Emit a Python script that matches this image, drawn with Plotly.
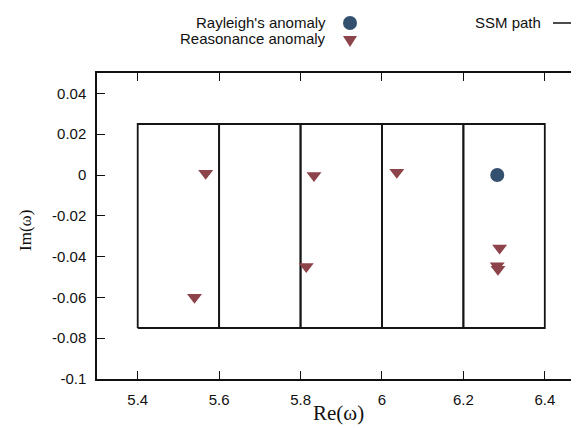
import plotly.graph_objects as go

# SSM path: rectangles spanning these real-part edges, between im_bottom and im_top
re_edges = [5.4, 5.6, 5.8, 6.0, 6.2, 6.4]
im_top = 0.025
im_bottom = -0.075

# Rayleigh's anomaly
rayleigh_re = [6.2832]
rayleigh_im = [0.0]

# Reasonance anomaly
res_re = [5.567, 5.5395, 5.833, 5.814, 6.0365, 6.289, 6.283, 6.285]
res_im = [0.0009, -0.0599, -0.0003, -0.0449, 0.0013, -0.0358, -0.0445, -0.0462]

xtick_vals = [5.4, 5.6, 5.8, 6.0, 6.2, 6.4]
xtick_text = ["5.4", "5.6", "5.8", "6", "6.2", "6.4"]
ytick_vals = [0.04, 0.02, 0, -0.02, -0.04, -0.06, -0.08, -0.1]
ytick_text = ["0.04", "0.02", "0", "-0.02", "-0.04", "-0.06", "-0.08", "-0.1"]

circle_color = "#34506f"
tri_color = "#8c4349"

path_x, path_y = [], []
for a, b in zip(re_edges[:-1], re_edges[1:]):
    path_x += [a, b, b, a, a, None]
    path_y += [im_bottom, im_bottom, im_top, im_top, im_bottom, None]

fig = go.Figure()
fig.add_trace(go.Scatter(x=path_x, y=path_y, mode="lines",
                         line=dict(color="#151515", width=1.8),
                         name="SSM path", showlegend=False, hoverinfo="skip"))
fig.add_trace(go.Scatter(x=res_re, y=res_im, mode="markers",
                         marker=dict(symbol="triangle-down", size=13, color=tri_color),
                         name="Reasonance anomaly", showlegend=False))
fig.add_trace(go.Scatter(x=rayleigh_re, y=rayleigh_im, mode="markers",
                         marker=dict(symbol="circle", size=14, color=circle_color),
                         name="Rayleigh's anomaly", showlegend=False))

# page body has an 8px margin; lay out in window pixels shifted by OFF
OFF = 8
W, H = 579 - OFF, 428 - OFF
L, T = 97 - OFF, 73 - OFF
R = 0
B = H - (379 - OFF)
pw, ph = W - L - R, H - T - B

def px2paper(xp, yp):
    # xp, yp in reference-image pixels
    xp -= OFF
    yp -= OFF
    return (xp - L) / pw, (H - B - yp) / ph

tick_font = dict(family="Liberation Sans, Arial, sans-serif", size=15, color="#111")
leg_font = dict(family="Liberation Sans, Arial, sans-serif", size=15, color="#111")
title_family = "Liberation Serif, Times New Roman, serif"

fig.update_layout(
    width=W, height=H,
    margin=dict(l=L, r=R, t=T, b=B, autoexpand=False),
    plot_bgcolor="white", paper_bgcolor="white",
    showlegend=False,
    xaxis=dict(range=[5.3, 6.484], tickvals=xtick_vals, ticktext=xtick_text,
               ticks="inside", ticklen=8, tickwidth=1.3, tickcolor="#111",
               showline=True, linecolor="#111", linewidth=1.5, mirror="ticks",
               showgrid=False, zeroline=False, tickfont=tick_font,
               ticklabelstandoff=6, automargin=False),
    yaxis=dict(range=[-0.1, 0.05], tickvals=ytick_vals, ticktext=ytick_text,
               ticks="inside", ticklen=8, tickwidth=1.3, tickcolor="#111",
               showline=True, linecolor="#111", linewidth=1.5,
               showgrid=False, zeroline=False, tickfont=tick_font,
               ticklabelstandoff=6, automargin=False),
)

shapes = []
annotations = []

# Axis titles
ax, ay = px2paper(338, 413)
annotations.append(dict(xref="paper", yref="paper", x=ax, y=ay, text="Re(ω)", showarrow=False,
                        xanchor="center", yanchor="middle",
                        font=dict(family=title_family, size=21, color="#111")))
ax, ay = px2paper(26, 231)
annotations.append(dict(xref="paper", yref="paper", x=ax, y=ay, text="Im(ω)", showarrow=False,
                        xanchor="center", yanchor="middle", textangle=-90,
                        font=dict(family=title_family, size=17, color="#111")))

# Manual legend (symbols to the right of right-aligned labels)
cx, cy = px2paper(350, 23)
shapes.append(dict(type="circle", xref="paper", yref="paper", xsizemode="pixel", ysizemode="pixel",
                   xanchor=cx, yanchor=cy, x0=-7, x1=7, y0=-7, y1=7,
                   fillcolor=circle_color, line=dict(width=0)))
tx, ty = px2paper(350, 40)
shapes.append(dict(type="path", xref="paper", yref="paper", xsizemode="pixel", ysizemode="pixel",
                   xanchor=tx, yanchor=ty, path="M-7,4 L7,4 L0,-7 Z",
                   fillcolor=tri_color, line=dict(width=0)))
lx0, ly = px2paper(553, 23)
lx1, _ = px2paper(573, 23)
shapes.append(dict(type="line", xref="paper", yref="paper", x0=lx0, x1=lx1, y0=ly, y1=ly,
                   line=dict(color="#111", width=1.5)))

ax, ay = px2paper(328, 23)
annotations.append(dict(xref="paper", yref="paper", x=ax, y=ay, text="Rayleigh's anomaly",
                        showarrow=False, xanchor="right", yanchor="middle", font=leg_font))
ax, ay = px2paper(328, 39)
annotations.append(dict(xref="paper", yref="paper", x=ax, y=ay, text="Reasonance anomaly",
                        showarrow=False, xanchor="right", yanchor="middle", font=leg_font))
ax, ay = px2paper(543, 23)
annotations.append(dict(xref="paper", yref="paper", x=ax, y=ay, text="SSM path",
                        showarrow=False, xanchor="right", yanchor="middle", font=leg_font))

fig.update_layout(shapes=shapes, annotations=annotations)
fig.write_html("out.html")
